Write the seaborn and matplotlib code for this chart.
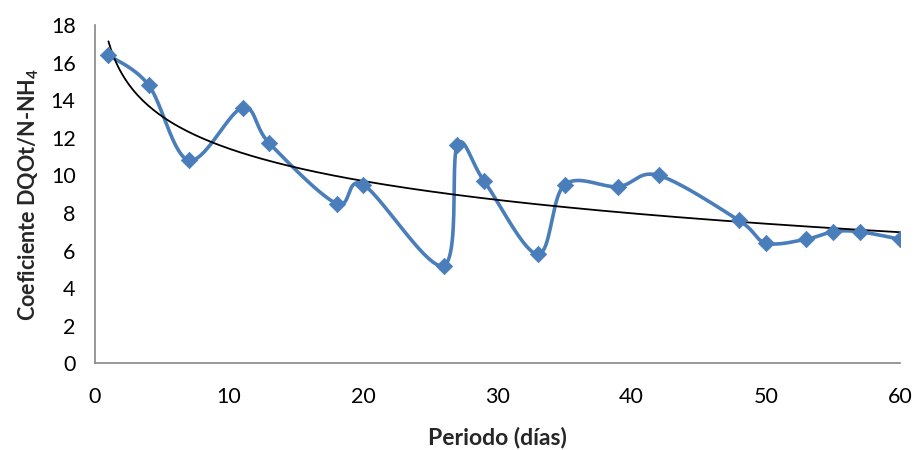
import numpy as np
import pandas as pd
import matplotlib
matplotlib.use("Agg")
import matplotlib.pyplot as plt
import seaborn as sns

# Measured ratio per sampling day
dias = [1, 4, 7, 11, 13, 18, 20, 26, 27, 29, 33, 35, 39, 42, 48, 50, 53, 55, 57, 60]
coeficiente = [16.4, 14.8, 10.8, 13.6, 11.7, 8.5, 9.5, 5.2, 11.6, 9.7,
               5.8, 9.5, 9.4, 10.0, 7.6, 6.4, 6.6, 7.0, 7.0, 6.6]

x_ticks = [0, 10, 20, 30, 40, 50, 60]
y_ticks = [0, 2, 4, 6, 8, 10, 12, 14, 16, 18]

BLUE = "#4A7EBB"
AXIS_GREY = "#868686"


def smooth_curve(x, y, n=40):
    """Cubic Bezier smoothing through every point (Catmull-Rom style)."""
    p = np.column_stack([x, y]).astype(float)
    p_ext = np.vstack([p[0], p, p[-1]])
    out = []
    t = np.linspace(0, 1, n)[:, None]
    for i in range(len(p) - 1):
        p0, p1, p2, p3 = p_ext[i], p_ext[i + 1], p_ext[i + 2], p_ext[i + 3]
        c1 = p1 + (p2 - p0) / 6.0
        c2 = p2 - (p3 - p1) / 6.0
        seg = ((1 - t) ** 3) * p1 + 3 * ((1 - t) ** 2) * t * c1 \
            + 3 * (1 - t) * t ** 2 * c2 + t ** 3 * p2
        out.append(seg if i == 0 else seg[1:])
    seg = np.vstack(out)
    return seg[:, 0], seg[:, 1]


sns.set_theme(style="white")
plt.rcParams["font.family"] = ["Lato", "DejaVu Sans"]
plt.rcParams["mathtext.fontset"] = "custom"
plt.rcParams["mathtext.rm"] = "Lato:bold"
plt.rcParams["mathtext.bf"] = "Lato:bold"

fig = plt.figure(figsize=(9.15, 4.5), dpi=100)
ax = fig.add_axes([95 / 915, 1 - 363.3 / 450, 805 / 915, 338.3 / 450])

df = pd.DataFrame({"dia": dias, "coef": coeficiente})

# Smoothed series line
sx, sy = smooth_curve(df["dia"].values, df["coef"].values)
sns.lineplot(x=sx, y=sy, sort=False, estimator=None, color=BLUE,
             linewidth=2.6, ax=ax, zorder=2)

# Logarithmic trend line fitted to the data
a, b = np.polyfit(np.log(df["dia"]), df["coef"], 1)
tx = np.linspace(min(dias), max(dias), 300)
sns.lineplot(x=tx, y=a * np.log(tx) + b, color="black", linewidth=1.3,
             ax=ax, zorder=3)

# Diamond markers
sns.scatterplot(data=df, x="dia", y="coef", marker="D", s=70, color=BLUE,
                edgecolor=BLUE, linewidth=0.5, ax=ax, zorder=4)

ax.set_xlim(0, 60)
ax.set_ylim(0, 18)
ax.set_xticks(x_ticks)
ax.set_yticks(y_ticks)
ax.tick_params(axis="both", direction="out", length=5, width=1.2,
               color=AXIS_GREY, labelsize=15.5, labelcolor="black", pad=9)
ax.tick_params(axis="x", pad=12)

for side in ["top", "right"]:
    ax.spines[side].set_visible(False)
for side in ["left", "bottom"]:
    ax.spines[side].set_color(AXIS_GREY)
    ax.spines[side].set_linewidth(1.2)

ax.set_xlabel("Periodo (días)", fontsize=16.5, fontweight="bold", labelpad=14)
ax.set_ylabel(r"Coeficiente DQOt/N-NH$_\mathbf{4}$", fontsize=15.5,
              fontweight="bold", labelpad=7)

fig.savefig("out.png", dpi=100)
